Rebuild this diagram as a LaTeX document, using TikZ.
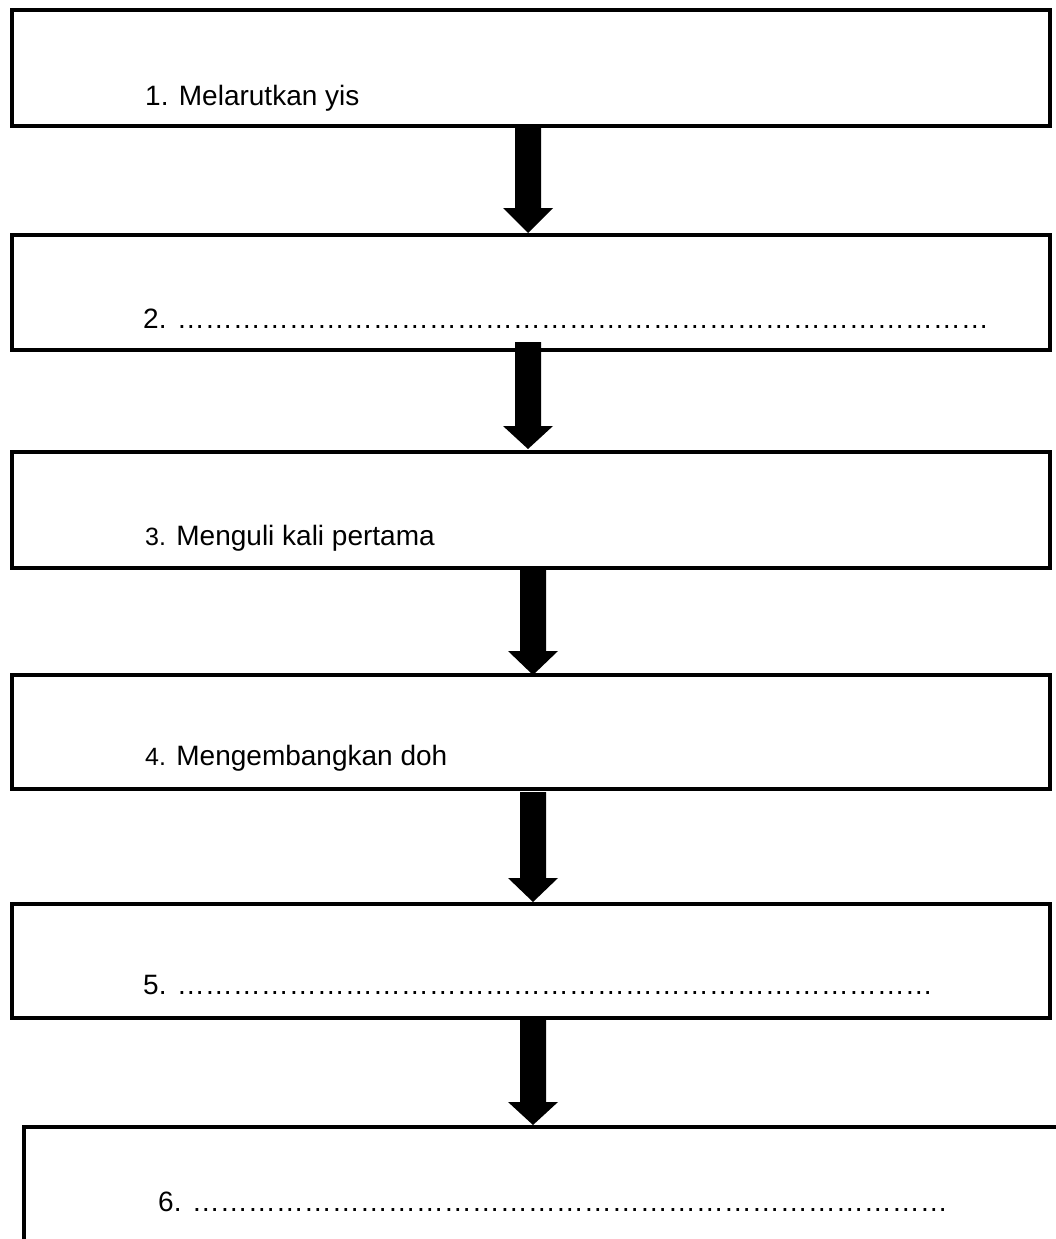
\documentclass[tikz,border=0pt]{standalone}
\usepackage{fontspec}
\setmainfont{Liberation Sans}
\newcommand{\dotrun}[1]{\foreach \k in {1,...,#1}{…}}
\begin{document}
\begin{tikzpicture}[x=1pt,y=-1pt,
  stepbox/.style={draw=black,line width=4pt,fill=white,rectangle,inner sep=0pt,anchor=north west},
  steptext/.style={anchor=base west,inner sep=0pt,font=\fontsize{28}{34}\selectfont},
  bigarrow/.style={fill=black,draw=none}]
\useasboundingbox (0,0) rectangle (1056,1239);
\clip (0,0) rectangle (1056,1239);
\fill[white] (0,0) rectangle (1056,1239);
% boxes
\node[stepbox,minimum width=1038pt,minimum height=116pt] (b1) at (10,8) {};
\node[stepbox,minimum width=1038pt,minimum height=115pt] (b2) at (10,233) {};
\node[stepbox,minimum width=1038pt,minimum height=116pt] (b3) at (10,450) {};
\node[stepbox,minimum width=1038pt,minimum height=114pt] (b4) at (10,673) {};
\node[stepbox,minimum width=1038pt,minimum height=114pt] (b5) at (10,902) {};
\node[stepbox,minimum width=1100pt,minimum height=200pt] (b6) at (22,1125) {};
% texts
\node[steptext] (t1) at (145,105) {1. Melarutkan yis};
\node[steptext] (t2) at (143,328) {2. \dotrun{29}};
\node[steptext] (t3) at (145,545) {{\fontsize{25}{30}\selectfont 3.} Menguli kali pertama};
\node[steptext] (t4) at (145,765) {{\fontsize{25}{30}\selectfont 4.} Mengembangkan doh};
\node[steptext] (t5) at (143,994) {5. \dotrun{27}};
\node[steptext] (t6) at (158,1211) {6. \dotrun{27}};
% arrows (shaft width 26, head width 50, head length 24)
\newcommand{\blockarrow}[4]{% x, top, head start, tip
  \fill[bigarrow] (#1-13,#2) -- (#1+13,#2) -- (#1+13,#3) -- (#1+25,#3) -- (#1,#4) -- (#1-25,#3) -- (#1-13,#3) -- cycle;}
\blockarrow{528}{124}{208}{233}
\blockarrow{528}{342}{426}{449}
\blockarrow{533}{566}{651}{675}
\blockarrow{533}{792}{878}{902}
\blockarrow{533}{1016}{1102}{1125}
\end{tikzpicture}
\end{document}
